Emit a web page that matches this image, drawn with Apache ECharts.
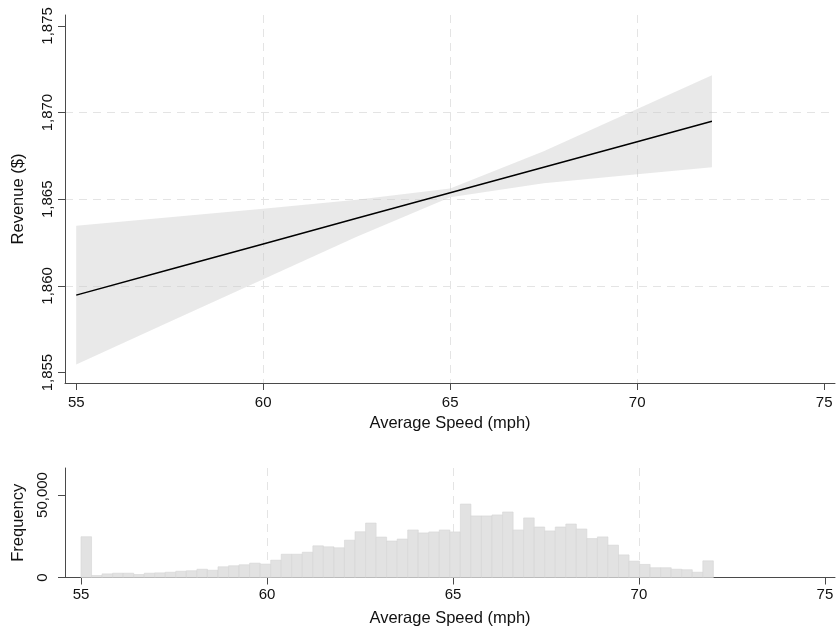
<!DOCTYPE html>
<html>
<head>
<meta charset="utf-8">
<script src="https://cdn.jsdelivr.net/npm/echarts@6/dist/echarts.min.js"></script>
<style>
  html, body { margin: 0; padding: 0; background: #fff; }
  #main { width: 839px; height: 634px; }
</style>
</head>
<body>
<div id="main"></div>
<script>
// fitted line and 95% CI
var fitX = [55, 57.5, 60, 62.5, 65, 67.5, 70, 72];
var fitY = [1859.47, 1860.95, 1862.42, 1863.90, 1865.37, 1866.85, 1868.32, 1869.50];
var ciLow = [1855.47, 1857.94, 1860.39, 1862.83, 1865.12, 1865.93, 1866.44, 1866.84];
var ciHigh = [1863.47, 1863.96, 1864.45, 1864.97, 1865.62, 1867.77, 1870.20, 1872.16];

var speedTicks = [55, 60, 65, 70, 75];
var revTicks = [1855, 1860, 1865, 1870, 1875];

// histogram: 60 bins from 55 to 72
var binStart = 55;
var binWidth = 17 / 60;
var freq = [
  24700, 1200, 2200, 2600, 2600, 1800, 2600, 2800, 3200, 3800,
  4100, 5000, 4400, 6500, 7100, 7700, 8700, 8100, 10500, 14100,
  14100, 15300, 19200, 18600, 18000, 22600, 27700, 33000, 24500, 22100,
  23300, 28800, 27000, 27600, 28800, 27600, 44500, 37300, 37300, 37900,
  39700, 28800, 36100, 30600, 28200, 30600, 32400, 29400, 23600, 24600,
  19600, 13700, 9900, 7900, 5900, 5900, 5000, 4700, 3200, 10100
];
var freqTicks = [0, 50000];

var FONT = 'Liberation Sans';
var axisCol = '#4a4a4a';
var gridCol = '#e4e4e4';

function fmt(v) {
  return Number(v).toLocaleString('en-US');
}

var fit = fitX.map(function (x, i) { return [x, fitY[i]]; });
var ci = fitX.map(function (x, i) { return [x, ciLow[i], ciHigh[i]]; });
var bins = freq.map(function (v, i) {
  return [binStart + i * binWidth, binStart + (i + 1) * binWidth, v];
});

function xAxisOpt(gridIndex, min, max, margin) {
  return {
    type: 'value', gridIndex: gridIndex, min: min, max: max,
    name: 'Average Speed (mph)', nameLocation: 'middle', nameGap: 32,
    nameTextStyle: { fontFamily: FONT, fontSize: 16.5, color: '#111' },
    axisLine: { show: true, lineStyle: { color: axisCol, width: 1 } },
    axisTick: { show: true, length: 7, customValues: speedTicks, lineStyle: { color: axisCol } },
    axisLabel: { fontFamily: FONT, fontSize: 15, color: '#111', margin: margin,
      customValues: speedTicks },
    splitLine: { show: true, showMinLine: false, showMaxLine: false,
      lineStyle: { color: gridCol, type: [8, 6], width: 1 } }
  };
}

function yAxisOpt(gridIndex, min, max, name, ticks, margin) {
  return {
    type: 'value', gridIndex: gridIndex, min: min, max: max,
    name: name, nameLocation: 'middle', nameGap: 38,
    nameTextStyle: { fontFamily: FONT, fontSize: 16.5, color: '#111' },
    axisLine: { show: true, lineStyle: { color: axisCol, width: 1 } },
    axisTick: { show: true, length: 7, customValues: ticks, lineStyle: { color: axisCol } },
    axisLabel: { fontFamily: FONT, fontSize: 15, color: '#111', rotate: 90, margin: margin,
      customValues: ticks, formatter: fmt },
    splitLine: { show: true, showMinLine: false, showMaxLine: false,
      lineStyle: { color: gridCol, type: [8, 6], width: 1 } }
  };
}

var histY = yAxisOpt(1, 0, 66360, 'Frequency', freqTicks, 15);
histY.interval = 50000;

var option = {
  animation: false,
  backgroundColor: '#fff',
  grid: [
    { left: 65, right: 4, top: 15, height: 368 },
    { left: 65, right: 4, top: 468, height: 109.5 }
  ],
  xAxis: [
    xAxisOpt(0, 54.7, 75.29, 12),
    xAxisOpt(1, 54.57, 75.27, 10)
  ],
  yAxis: [
    yAxisOpt(0, 1854.4, 1875.63, 'Revenue ($)', revTicks, 10),
    histY
  ],
  series: [
    {
      // CI band as one polygon
      type: 'custom', xAxisIndex: 0, yAxisIndex: 0, data: ci,
      encode: { x: 0, y: [1, 2] }, silent: true,
      renderItem: function (params, api) {
        if (params.dataIndex !== 0) return null;
        var pts = [];
        for (var i = 0; i < ci.length; i++) pts.push(api.coord([ci[i][0], ci[i][2]]));
        for (var j = ci.length - 1; j >= 0; j--) pts.push(api.coord([ci[j][0], ci[j][1]]));
        return {
          type: 'polygon',
          shape: { points: pts },
          style: { fill: 'rgba(200,200,200,0.4)' }
        };
      }
    },
    {
      type: 'line', xAxisIndex: 0, yAxisIndex: 0, data: fit,
      symbol: 'none', lineStyle: { color: '#000', width: 1.5 }
    },
    {
      type: 'custom', xAxisIndex: 1, yAxisIndex: 1, data: bins,
      encode: { x: [0, 1], y: 2 },
      renderItem: function (params, api) {
        var p0 = api.coord([api.value(0), api.value(2)]);
        var p1 = api.coord([api.value(1), 0]);
        return {
          type: 'rect',
          shape: { x: p0[0], y: p0[1], width: p1[0] - p0[0], height: p1[1] - p0[1] },
          style: { fill: '#e2e2e2', stroke: '#d5d5d5', lineWidth: 0.6 }
        };
      }
    }
  ]
};

var chart = echarts.init(document.getElementById('main'), null, { renderer: 'canvas' });
chart.setOption(option);
</script>
</body>
</html>
